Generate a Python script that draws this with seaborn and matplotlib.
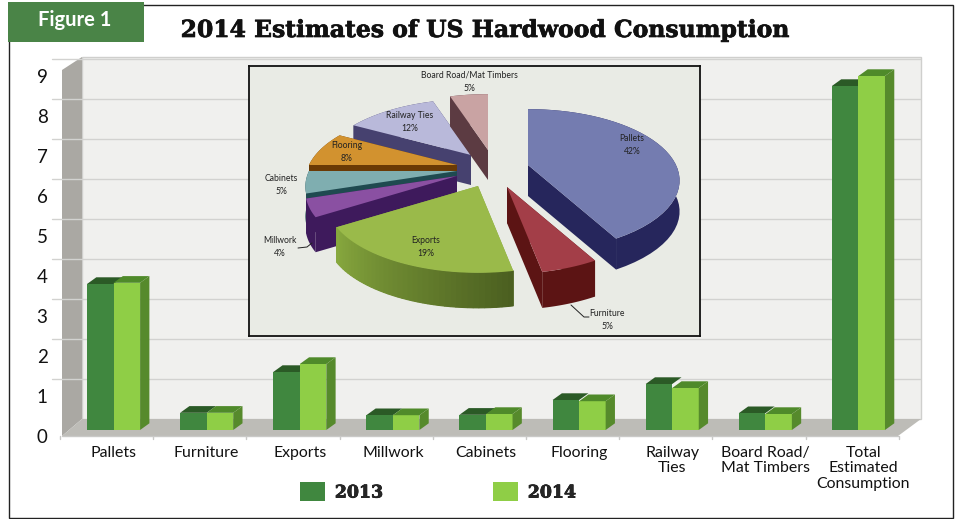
import numpy as np
import pandas as pd
import seaborn as sns
import matplotlib.pyplot as plt
import matplotlib.patheffects as pe
from matplotlib.colors import to_rgb
from matplotlib.patches import Polygon, Rectangle
from matplotlib.transforms import ScaledTranslation

# bar chart data
categories = ["Pallets", "Furniture", "Exports", "Millwork", "Cabinets", "Flooring",
              "Railway\nTies", "Board Road/\nMat Timbers", "Total\nEstimated\nConsumption"]
values_2013 = [3.65, 0.43, 1.45, 0.37, 0.38, 0.75, 1.15, 0.42, 8.60]
values_2014 = [3.68, 0.43, 1.65, 0.37, 0.40, 0.72, 1.05, 0.40, 8.85]
y_ticks = [0, 1, 2, 3, 4, 5, 6, 7, 8, 9]

# pie chart data
pie_names = ["Pallets", "Furniture", "Exports", "Millwork", "Cabinets", "Flooring",
             "Railway Ties", "Board Road/Mat Timbers"]
pie_percent = [42, 5, 19, 4, 5, 8, 12, 5]

# pie styling, same order as pie_names
pie_tops = ["#747cb0", "#a33e48", "#9aba4a", "#8a50a2", "#7faeb0", "#d2922f", "#b9b9da", "#c9a3a3"]
pie_walls = ["#26265c", "#5c1414", "#87a83e", "#3e1a5c", "#1f4a50", "#6a3a05", "#46416f", "#5c3b42"]
pie_walls_end = ["#26265c", "#5c1414", "#4b5f20", "#3e1a5c", "#1f4a50", "#6a3a05", "#46416f", "#5c3b42"]
pie_apex = [(279, 99), (258, 121), (229, 120), (208, 110), (208, 105), (208, 99), (222, 89), (239, 84)]
pie_depth = [31, 36, 35, 35, 30, 30, 30, 30]
pie_order = [6, 7, 5, 4, 3, 0, 1, 2]
pie_label_pos = [(383, 79), (358, 254), (177, 181), (31, 181), (32, 119), (98, 86), (161, 56), (220, 16)]

W, H = 957, 519
DARK_GREEN = "#40873f"
LIGHT_GREEN = "#8fce46"
FONT = "Lato"
SLAB = "DejaVu Serif"


def pixel_axes(fig, left, top, width, height):
    return fig.add_axes([left / W, 1 - (top + height) / H, width / W, height / H])


def draw_background(fig):
    bg = fig.add_axes([0, 0, 1, 1])
    bg.set_xlim(0, W)
    bg.set_ylim(H, 0)
    bg.axis("off")
    # frame and figure tag
    bg.add_patch(Rectangle((8.5, 4.5), 944, 513, fc="white", ec="#222222", lw=1))
    bg.add_patch(Rectangle((8, 2), 136, 40, fc="#4a8447", ec="none", zorder=3))
    bg.text(75, 20, "Figure 1", color="white", fontsize=14.5, fontweight="bold",
            family=FONT, ha="center", va="center", zorder=4)
    title = bg.text(485, 31, "2014 Estimates of US Hardwood Consumption", fontsize=16.9,
                    fontweight="bold", family=SLAB, ha="center", va="center", color="#111111")
    title.set_path_effects([pe.withStroke(linewidth=0.5, foreground="#111111")])
    # back wall, side wall and floor
    bg.add_patch(Polygon([(82, 57), (921, 57), (921, 419), (82, 419)], fc="#f0f0ee", ec="#cfcfcd", lw=1))
    bg.add_patch(Polygon([(62, 70), (82, 57), (82, 419), (62, 436)], fc="#aaa8a3", ec="none"))
    bg.add_patch(Polygon([(82, 419), (921, 419), (898, 436), (62, 436)], fc="#bdbcb7", ec="none"))
    bg.plot([62, 898], [436, 436], color="#c9c9c7", lw=1)
    for k in range(10):
        x = 60 + 93.2 * k
        bg.plot([x, x], [436, 439], color="#c9c9c7", lw=1)
    return bg


def draw_bars(fig):
    ax = pixel_axes(fig, 67, 70, 838, 360)
    ax.patch.set_alpha(0)
    table = pd.DataFrame({
        "category": categories * 2,
        "year": ["2013"] * len(categories) + ["2014"] * len(categories),
        "value": values_2013 + values_2014,
    })
    sns.barplot(data=table, x="category", y="value", hue="year", ax=ax, width=0.57, gap=0,
                palette=[DARK_GREEN, LIGHT_GREEN], saturation=1, errorbar=None, zorder=3, linewidth=0)
    ax.set_xlim(-0.5, len(categories) - 0.5)
    ax.set_ylim(0, 9)
    ax.set_xlabel("")
    ax.set_ylabel("")
    sns.despine(ax=ax, left=True, bottom=True)

    # back wall gridlines sit 11px above the bar plane
    up = ax.transData + ScaledTranslation(0, 11 / fig.dpi, fig.dpi_scale_trans)
    for tick in y_ticks[1:]:
        ax.plot([-0.66, 8.66], [tick, tick], color="#d2d2d0", lw=1, transform=up, clip_on=False, zorder=1)

    ax.set_yticks(y_ticks)
    ax.set_xticks(range(len(categories)))
    ax.set_xticklabels(categories, family=FONT, fontsize=11.4, color="#111111", linespacing=1.12)
    ax.tick_params(axis="x", length=0, pad=11.5)
    ax.tick_params(axis="y", length=0, pad=14, labelsize=13.5, labelcolor="#111111")
    down = ScaledTranslation(0, -6 / fig.dpi, fig.dpi_scale_trans)
    for label in ax.get_yticklabels():
        label.set_transform(label.get_transform() + down)
        label.set_family(FONT)
    last = ax.get_xticklabels()[-1]
    last.set_transform(last.get_transform() + ScaledTranslation(5 / fig.dpi, 0, fig.dpi_scale_trans))

    # 3D faces on top of what seaborn drew
    px_x = 9.3 / (838 / len(categories))
    px_y = 6.7 / 40
    n = len(categories)
    for i, bar in enumerate(ax.patches[:2 * n]):
        x0, w, h = bar.get_x(), bar.get_width(), bar.get_height()
        is_first = i < n
        top_color = "#2b5a26" if is_first else "#4f8a2a"
        ax.add_patch(Polygon([(x0, h), (x0 + w, h), (x0 + w + px_x, h + px_y), (x0 + px_x, h + px_y)],
                             fc=top_color, ec="none", zorder=2.9 if is_first else 3, clip_on=False))
        if not is_first:
            ax.add_patch(Polygon([(x0 + w, 0), (x0 + w + px_x, px_y), (x0 + w + px_x, h + px_y), (x0 + w, h)],
                                 fc="#568a2c", ec="none", zorder=3, clip_on=False))

    # legend
    handles, labels = ax.get_legend_handles_labels()
    legend = ax.legend(handles, labels, loc="center", bbox_to_anchor=(438 / W, 1 - 492 / H),
                       bbox_transform=fig.transFigure, ncol=2, frameon=False, handlelength=1.44,
                       handleheight=1.27, handletextpad=0.58, columnspacing=6.3,
                       prop={"family": SLAB, "weight": "bold", "size": 12.5})
    for text in legend.get_texts():
        text.set_path_effects([pe.withStroke(linewidth=0.5, foreground="black")])
    return ax


def project(apex, u, v, depth=0):
    p = 1 / (1 + 0.217 * v)
    return apex[0] + 148 * u * p, apex[1] - 68 * v * p + depth


def draw_pie(fig):
    inset = pixel_axes(fig, 249, 66, 451, 270)
    inset.set_xlim(0, 451)
    inset.set_ylim(270, 0)
    inset.set_xticks([])
    inset.set_yticks([])
    inset.set_facecolor("#e9ebe5")
    for spine in inset.spines.values():
        spine.set_color("#111111")
        spine.set_linewidth(1.3)

    cum = np.cumsum([0] + pie_percent) * 3.6
    for i in pie_order:
        apex, depth = pie_apex[i], pie_depth[i]
        angles = np.radians(np.linspace(cum[i], cum[i + 1], 40))
        arc = [project(apex, np.sin(a), np.cos(a)) for a in angles]
        low = [project(apex, np.sin(a), np.cos(a), depth) for a in angles]
        base = (apex[0], apex[1] + depth)
        # radial walls, then the rim, then the top face
        for edge, edge_low in ((arc[0], low[0]), (arc[-1], low[-1])):
            inset.add_patch(Polygon([apex, edge, edge_low, base], fc=pie_walls[i], ec="none"))
        inset.add_patch(Polygon(arc + low[::-1], fc=pie_walls[i], ec="none"))
        if pie_walls[i] != pie_walls_end[i]:
            c0, c1 = np.array(to_rgb(pie_walls[i])), np.array(to_rgb(pie_walls_end[i]))
            for j in range(len(arc) - 1):
                t = 1 - j / (len(arc) - 2)
                col = c0 * (1 - t) + c1 * t
                inset.add_patch(Polygon([arc[j], arc[j + 1], low[j + 1], low[j]], fc=col, ec=col, lw=0.8))
        inset.add_patch(Polygon([apex] + arc, fc=pie_tops[i], ec="none"))

    for name, pct, pos in zip(pie_names, pie_percent, pie_label_pos):
        inset.text(pos[0], pos[1], f"{name}\n{pct}%", fontsize=6.2, family=FONT, color="#222222",
                   ha="center", va="center", linespacing=1.6)
    # leader lines
    inset.plot([49, 58, 63], [182, 181, 177], color="#222222", lw=0.7)
    inset.plot([322, 335, 340], [239, 251, 251], color="#222222", lw=0.7)


fig = plt.figure(figsize=(W / 100, H / 100), dpi=100)
sns.set_theme(style="white")
draw_background(fig)
draw_bars(fig)
draw_pie(fig)
fig.savefig("out.png", dpi=100)
